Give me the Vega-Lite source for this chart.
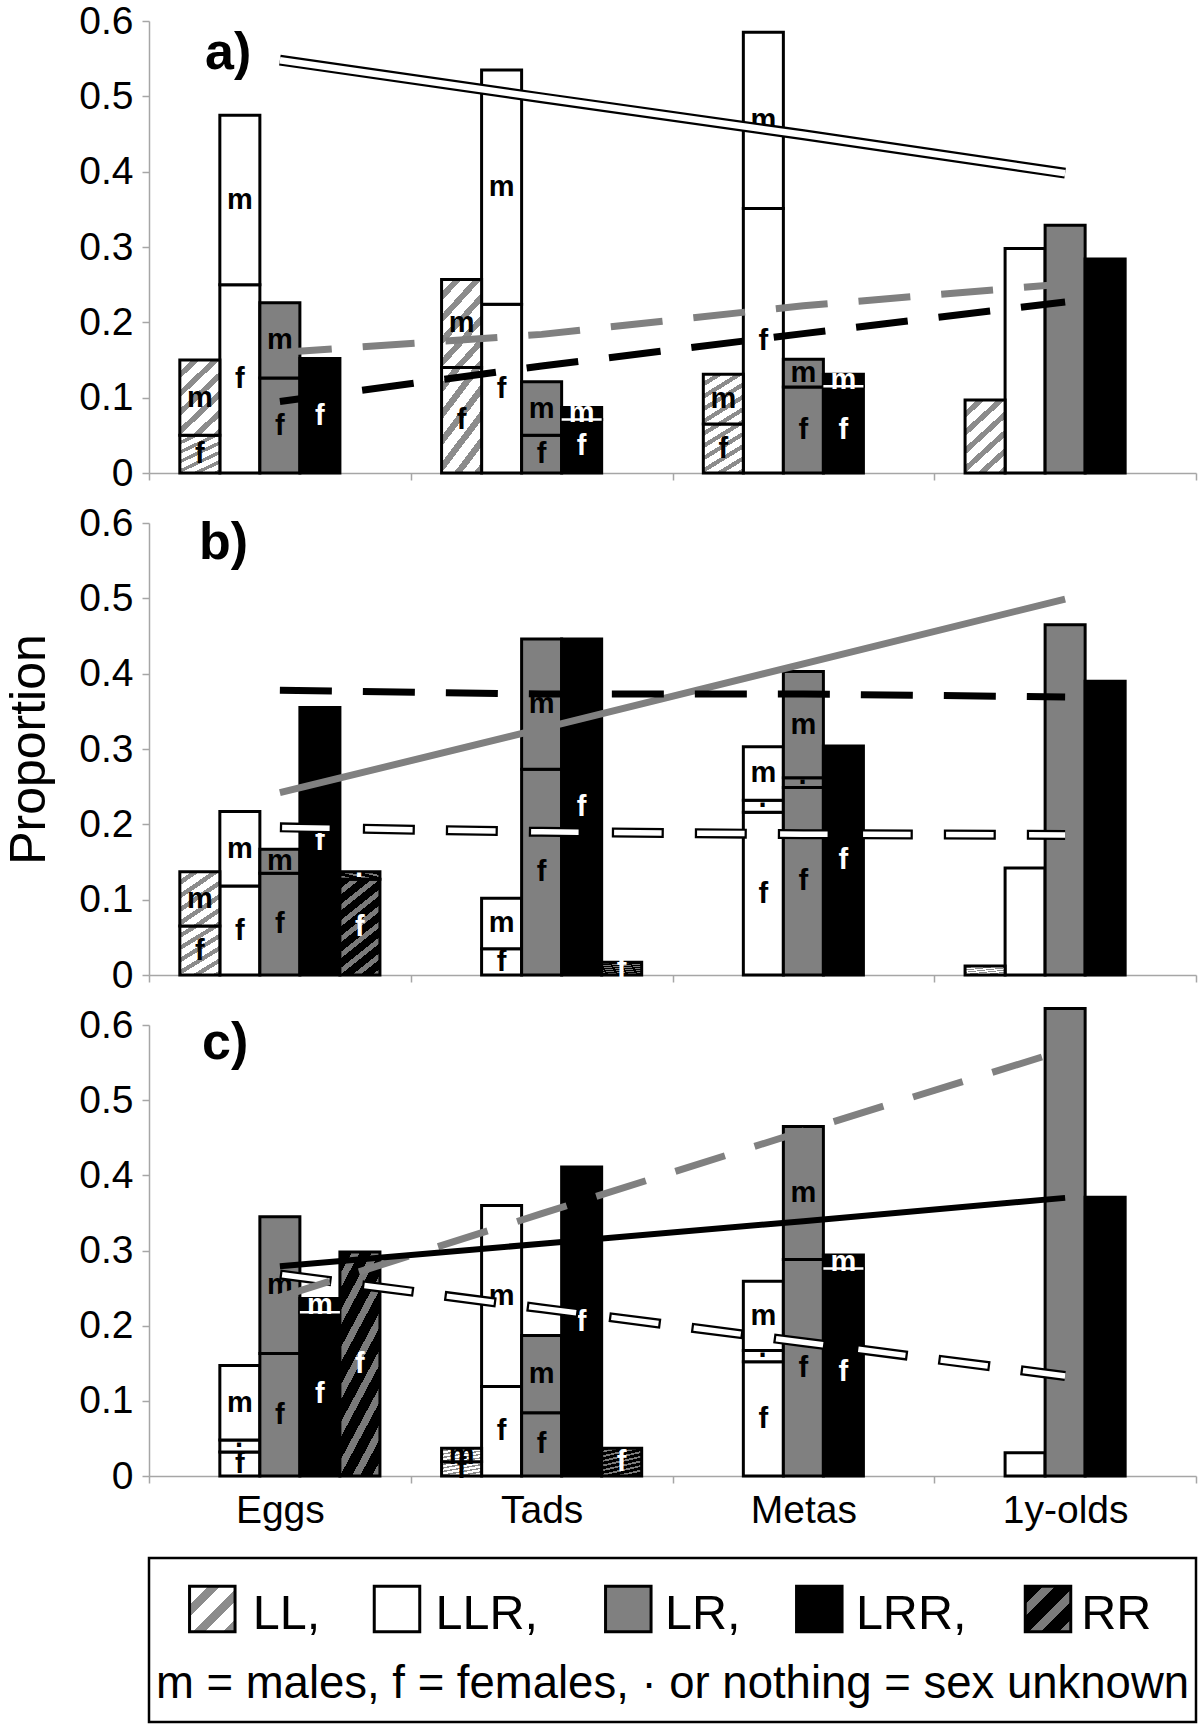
{
  "$schema": "https://vega.github.io/schema/vega-lite/v6.json",
  "padding": {"left": 4, "top": 2, "right": 4, "bottom": 1},
  "background": "white",
  "config": {
    "font": "Liberation Sans",
    "view": {"stroke": null}
  },
  "datasets": {
    "bars": [
      {"panel":"a","stage":"Eggs","geno":"LL","sex":"f","v":0.050},
      {"panel":"a","stage":"Eggs","geno":"LL","sex":"m","v":0.100},
      {"panel":"a","stage":"Eggs","geno":"LLR","sex":"f","v":0.250},
      {"panel":"a","stage":"Eggs","geno":"LLR","sex":"m","v":0.225},
      {"panel":"a","stage":"Eggs","geno":"LR","sex":"f","v":0.126},
      {"panel":"a","stage":"Eggs","geno":"LR","sex":"m","v":0.100},
      {"panel":"a","stage":"Eggs","geno":"LRR","sex":"f","v":0.152},
      {"panel":"a","stage":"Tads","geno":"LL","sex":"f","v":0.140},
      {"panel":"a","stage":"Tads","geno":"LL","sex":"m","v":0.117},
      {"panel":"a","stage":"Tads","geno":"LLR","sex":"f","v":0.224},
      {"panel":"a","stage":"Tads","geno":"LLR","sex":"m","v":0.311},
      {"panel":"a","stage":"Tads","geno":"LR","sex":"f","v":0.050},
      {"panel":"a","stage":"Tads","geno":"LR","sex":"m","v":0.071},
      {"panel":"a","stage":"Tads","geno":"LRR","sex":"f","v":0.071},
      {"panel":"a","stage":"Tads","geno":"LRR","sex":"m","v":0.016},
      {"panel":"a","stage":"Metas","geno":"LL","sex":"f","v":0.065},
      {"panel":"a","stage":"Metas","geno":"LL","sex":"m","v":0.066},
      {"panel":"a","stage":"Metas","geno":"LLR","sex":"f","v":0.351},
      {"panel":"a","stage":"Metas","geno":"LLR","sex":"m","v":0.234},
      {"panel":"a","stage":"Metas","geno":"LR","sex":"f","v":0.114},
      {"panel":"a","stage":"Metas","geno":"LR","sex":"m","v":0.037},
      {"panel":"a","stage":"Metas","geno":"LRR","sex":"f","v":0.115},
      {"panel":"a","stage":"Metas","geno":"LRR","sex":"m","v":0.016},
      {"panel":"a","stage":"1y-olds","geno":"LL","sex":"","v":0.097},
      {"panel":"a","stage":"1y-olds","geno":"LLR","sex":"","v":0.298},
      {"panel":"a","stage":"1y-olds","geno":"LR","sex":"","v":0.329},
      {"panel":"a","stage":"1y-olds","geno":"LRR","sex":"","v":0.284},
      {"panel":"b","stage":"Eggs","geno":"LL","sex":"f","v":0.065},
      {"panel":"b","stage":"Eggs","geno":"LL","sex":"m","v":0.072},
      {"panel":"b","stage":"Eggs","geno":"LLR","sex":"f","v":0.118},
      {"panel":"b","stage":"Eggs","geno":"LLR","sex":"m","v":0.099},
      {"panel":"b","stage":"Eggs","geno":"LR","sex":"f","v":0.135},
      {"panel":"b","stage":"Eggs","geno":"LR","sex":"m","v":0.032},
      {"panel":"b","stage":"Eggs","geno":"LRR","sex":"f","v":0.355},
      {"panel":"b","stage":"Eggs","geno":"RR","sex":"f","v":0.127},
      {"panel":"b","stage":"Eggs","geno":"RR","sex":"·","v":0.010},
      {"panel":"b","stage":"Tads","geno":"LLR","sex":"f","v":0.035},
      {"panel":"b","stage":"Tads","geno":"LLR","sex":"m","v":0.067},
      {"panel":"b","stage":"Tads","geno":"LR","sex":"f","v":0.273},
      {"panel":"b","stage":"Tads","geno":"LR","sex":"m","v":0.173},
      {"panel":"b","stage":"Tads","geno":"LRR","sex":"f","v":0.446},
      {"panel":"b","stage":"Tads","geno":"RR","sex":"f","v":0.017},
      {"panel":"b","stage":"Metas","geno":"LLR","sex":"f","v":0.216},
      {"panel":"b","stage":"Metas","geno":"LLR","sex":"·","v":0.016},
      {"panel":"b","stage":"Metas","geno":"LLR","sex":"m","v":0.071},
      {"panel":"b","stage":"Metas","geno":"LR","sex":"f","v":0.249},
      {"panel":"b","stage":"Metas","geno":"LR","sex":"·","v":0.013},
      {"panel":"b","stage":"Metas","geno":"LR","sex":"m","v":0.141},
      {"panel":"b","stage":"Metas","geno":"LRR","sex":"f","v":0.304},
      {"panel":"b","stage":"1y-olds","geno":"LL","sex":"","v":0.012},
      {"panel":"b","stage":"1y-olds","geno":"LLR","sex":"","v":0.142},
      {"panel":"b","stage":"1y-olds","geno":"LR","sex":"","v":0.465},
      {"panel":"b","stage":"1y-olds","geno":"LRR","sex":"","v":0.390},
      {"panel":"c","stage":"Eggs","geno":"LLR","sex":"f","v":0.032},
      {"panel":"c","stage":"Eggs","geno":"LLR","sex":"·","v":0.016},
      {"panel":"c","stage":"Eggs","geno":"LLR","sex":"m","v":0.099},
      {"panel":"c","stage":"Eggs","geno":"LR","sex":"f","v":0.163},
      {"panel":"c","stage":"Eggs","geno":"LR","sex":"m","v":0.182},
      {"panel":"c","stage":"Eggs","geno":"LRR","sex":"f","v":0.218},
      {"panel":"c","stage":"Eggs","geno":"LRR","sex":"m","v":0.018},
      {"panel":"c","stage":"Eggs","geno":"RR","sex":"f","v":0.298},
      {"panel":"c","stage":"Tads","geno":"LL","sex":"f","v":0.019},
      {"panel":"c","stage":"Tads","geno":"LL","sex":"m","v":0.018},
      {"panel":"c","stage":"Tads","geno":"LLR","sex":"f","v":0.119},
      {"panel":"c","stage":"Tads","geno":"LLR","sex":"m","v":0.241},
      {"panel":"c","stage":"Tads","geno":"LR","sex":"f","v":0.084},
      {"panel":"c","stage":"Tads","geno":"LR","sex":"m","v":0.103},
      {"panel":"c","stage":"Tads","geno":"LRR","sex":"f","v":0.411},
      {"panel":"c","stage":"Tads","geno":"RR","sex":"f","v":0.037},
      {"panel":"c","stage":"Metas","geno":"LLR","sex":"f","v":0.152},
      {"panel":"c","stage":"Metas","geno":"LLR","sex":"·","v":0.015},
      {"panel":"c","stage":"Metas","geno":"LLR","sex":"m","v":0.092},
      {"panel":"c","stage":"Metas","geno":"LR","sex":"f","v":0.288},
      {"panel":"c","stage":"Metas","geno":"LR","sex":"m","v":0.177},
      {"panel":"c","stage":"Metas","geno":"LRR","sex":"f","v":0.276},
      {"panel":"c","stage":"Metas","geno":"LRR","sex":"m","v":0.018},
      {"panel":"c","stage":"1y-olds","geno":"LLR","sex":"","v":0.031},
      {"panel":"c","stage":"1y-olds","geno":"LR","sex":"","v":0.622},
      {"panel":"c","stage":"1y-olds","geno":"LRR","sex":"","v":0.371}
    ],
    "trends": [
      {"panel":"a","geno":"LLR","stage":"Eggs","p":0.548},
      {"panel":"a","geno":"LLR","stage":"Tads","p":0.498},
      {"panel":"a","geno":"LLR","stage":"Metas","p":0.449},
      {"panel":"a","geno":"LLR","stage":"1y-olds","p":0.398},
      {"panel":"a","geno":"LR","stage":"Eggs","p":0.160},
      {"panel":"a","geno":"LR","stage":"Tads","p":0.184},
      {"panel":"a","geno":"LR","stage":"Metas","p":0.222},
      {"panel":"a","geno":"LR","stage":"1y-olds","p":0.251},
      {"panel":"a","geno":"LRR","stage":"Eggs","p":0.095},
      {"panel":"a","geno":"LRR","stage":"Tads","p":0.142},
      {"panel":"a","geno":"LRR","stage":"Metas","p":0.185},
      {"panel":"a","geno":"LRR","stage":"1y-olds","p":0.227},
      {"panel":"b","geno":"LLR","stage":"Eggs","p":0.196},
      {"panel":"b","geno":"LLR","stage":"Tads","p":0.190},
      {"panel":"b","geno":"LLR","stage":"Metas","p":0.187},
      {"panel":"b","geno":"LLR","stage":"1y-olds","p":0.186},
      {"panel":"b","geno":"LR","stage":"Eggs","p":0.242},
      {"panel":"b","geno":"LR","stage":"Tads","p":0.327},
      {"panel":"b","geno":"LR","stage":"Metas","p":0.413},
      {"panel":"b","geno":"LR","stage":"1y-olds","p":0.499},
      {"panel":"b","geno":"LRR","stage":"Eggs","p":0.378},
      {"panel":"b","geno":"LRR","stage":"Tads","p":0.373},
      {"panel":"b","geno":"LRR","stage":"Metas","p":0.373},
      {"panel":"b","geno":"LRR","stage":"1y-olds","p":0.369},
      {"panel":"c","geno":"LLR","stage":"Eggs","p":0.268},
      {"panel":"c","geno":"LLR","stage":"Tads","p":0.223},
      {"panel":"c","geno":"LLR","stage":"Metas","p":0.178},
      {"panel":"c","geno":"LLR","stage":"1y-olds","p":0.133},
      {"panel":"c","geno":"LR","stage":"Eggs","p":0.238},
      {"panel":"c","geno":"LR","stage":"Tads","p":0.349},
      {"panel":"c","geno":"LR","stage":"Metas","p":0.459},
      {"panel":"c","geno":"LR","stage":"1y-olds","p":0.567},
      {"panel":"c","geno":"LRR","stage":"Eggs","p":0.279},
      {"panel":"c","geno":"LRR","stage":"Tads","p":0.309},
      {"panel":"c","geno":"LRR","stage":"Metas","p":0.339},
      {"panel":"c","geno":"LRR","stage":"1y-olds","p":0.370}
    ],
    "legend": [
      {"geno":"LL","lab":"LL,"},
      {"geno":"LLR","lab":"LLR,"},
      {"geno":"LR","lab":"LR,"},
      {"geno":"LRR","lab":"LRR,"},
      {"geno":"RR","lab":"RR"}
    ],
    "note": [
      {"t":"m = males, f = females, · or nothing = sex unknown"}
    ]
  },
  "spacing": 11,
  "vconcat": [
    {
      "width": 1047, "height": 452,
      "title": {"text": "a)", "anchor": "start", "frame": "group", "offset": -119, "baseline": "alphabetic", "fontSize": 52, "fontWeight": "bold", "dx": 56, "color": "black"},
      "encoding": {
        "x": {"field": "stage", "type": "nominal", "scale": {"domain": ["Eggs","Tads","Metas","1y-olds"], "paddingInner": 0, "paddingOuter": 0},
              "axis": {"title": null, "labels": false, "tickBand": "extent", "domainColor": "#a6a6a6", "tickColor": "#a6a6a6", "domainWidth": 1.5, "tickWidth": 1.5, "tickSize": 7, "grid": false}},
        "y": {"field": "p", "type": "quantitative", "scale": {"domain": [0, 0.6], "nice": false, "zero": true},
              "axis": {"title": null, "values": [0,0.1,0.2,0.3,0.4,0.5,0.6], "format": "~g", "labelFontSize": 39, "labelPadding": 9, "labelColor": "black", "domainColor": "#a6a6a6", "tickColor": "#a6a6a6", "domainWidth": 1.5, "tickWidth": 1.5, "tickSize": 7, "grid": false}}
      },
      "layer": [
        {
          "data": {"name": "bars"},
          "transform": [{"filter": "datum.panel === 'a'"}, {"stack": "v", "groupby": ["stage","geno"], "as": ["p0","p"]}, {"filter": "datum.geno === 'LLR' || datum.geno === 'LR' || datum.geno === 'LRR'"}],
          "mark": {"type": "bar", "stroke": "black", "strokeWidth": 3, "opacity": 1},
          "encoding": {
            "xOffset": {"field": "geno", "type": "nominal", "scale": {"domain": ["LL","LLR","LR","LRR","RR"], "paddingInner": 0, "paddingOuter": 0.77}},
            "y2": {"field": "p0"},
            "fill": {"field": "geno", "type": "nominal", "scale": {"domain": ["LLR","LR","LRR"], "range": ["#ffffff","#808080","#000000"]}, "legend": null}
          }
        },
        {
          "data": {"name": "bars"},
          "transform": [{"filter": "datum.panel === 'a'"}, {"stack": "v", "groupby": ["stage","geno"], "as": ["p0","p"]}, {"filter": "datum.geno === 'LL'"}],
          "mark": {"type": "bar", "stroke": "black", "strokeWidth": 3, "opacity": 1,
            "fill": {"gradient": "linear", "x1": 0, "y1": 0, "x2": 1, "y2": 2, "stops": [
              {"offset":0,"color":"#ffffff"},{"offset":0.06,"color":"#ffffff"},{"offset":0.06,"color":"#8c8c8c"},{"offset":0.1,"color":"#8c8c8c"},
              {"offset":0.1,"color":"#ffffff"},{"offset":0.16,"color":"#ffffff"},{"offset":0.16,"color":"#8c8c8c"},{"offset":0.2,"color":"#8c8c8c"},
              {"offset":0.2,"color":"#ffffff"},{"offset":0.26,"color":"#ffffff"},{"offset":0.26,"color":"#8c8c8c"},{"offset":0.3,"color":"#8c8c8c"},
              {"offset":0.3,"color":"#ffffff"},{"offset":0.36,"color":"#ffffff"},{"offset":0.36,"color":"#8c8c8c"},{"offset":0.4,"color":"#8c8c8c"},
              {"offset":0.4,"color":"#ffffff"},{"offset":0.46,"color":"#ffffff"},{"offset":0.46,"color":"#8c8c8c"},{"offset":0.5,"color":"#8c8c8c"},
              {"offset":0.5,"color":"#ffffff"},{"offset":0.56,"color":"#ffffff"},{"offset":0.56,"color":"#8c8c8c"},{"offset":0.6,"color":"#8c8c8c"},
              {"offset":0.6,"color":"#ffffff"},{"offset":1,"color":"#ffffff"}]}},
          "encoding": {
            "xOffset": {"field": "geno", "type": "nominal", "scale": {"domain": ["LL","LLR","LR","LRR","RR"], "paddingInner": 0, "paddingOuter": 0.77}},
            "y2": {"field": "p0"}
          }
        },
        {
          "data": {"name": "bars"},
          "transform": [{"filter": "datum.panel === 'a'"}, {"stack": "v", "groupby": ["stage","geno"], "as": ["p","p1"]}, {"filter": "datum.geno === 'LRR' && datum.sex !== 'f' && datum.sex !== ''"}],
          "mark": {"type": "bar", "fill": "transparent", "stroke": "white", "strokeWidth": 2.5, "opacity": 1},
          "encoding": {
            "xOffset": {"field": "geno", "type": "nominal", "scale": {"domain": ["LL","LLR","LR","LRR","RR"], "paddingInner": 0, "paddingOuter": 0.77}},
            "y2": {"field": "p"}
          }
        },
        {
          "data": {"name": "bars"},
          "transform": [{"filter": "datum.panel === 'a'"}, {"stack": "v", "groupby": ["stage","geno"], "as": ["p0","p1"]}, {"filter": "datum.sex !== ''"}, {"fold": ["p0","p1"], "as": ["edge","ev"]}, {"aggregate": [{"op": "mean", "field": "ev", "as": "p"}], "groupby": ["stage","geno","sex"]}],
          "mark": {"type": "text", "fontWeight": "bold", "fontSize": 29, "baseline": "middle", "align": "center"},
          "encoding": {
            "xOffset": {"field": "geno", "type": "nominal", "scale": {"domain": ["LL","LLR","LR","LRR","RR"], "paddingInner": 0, "paddingOuter": 0.77}},
            "text": {"field": "sex"},
            "color": {"condition": {"test": "datum.geno === 'LRR' || datum.geno === 'RR'", "value": "white"}, "value": "black"}
          }
        },
        {
          "data": {"name": "trends"},
          "transform": [{"filter": "datum.panel === 'a' && datum.geno === 'LLR'"}],
          "mark": {"type": "line", "color": "black", "strokeWidth": 11, "opacity": 1},
          "encoding": {"order": {"value": null}}
        },
        {
          "data": {"name": "trends"},
          "transform": [{"filter": "datum.panel === 'a' && datum.geno === 'LLR'"}],
          "mark": {"type": "line", "color": "white", "strokeWidth": 6.5, "opacity": 1},
          "encoding": {"order": {"value": null}}
        },
        {
          "data": {"name": "trends"},
          "transform": [{"filter": "datum.panel === 'a' && datum.geno === 'LR'"}],
          "mark": {"type": "line", "color": "#808080", "strokeWidth": 7, "strokeDash": [52, 31], "opacity": 1},
          "encoding": {"order": {"value": null}}
        },
        {
          "data": {"name": "trends"},
          "transform": [{"filter": "datum.panel === 'a' && datum.geno === 'LRR'"}],
          "mark": {"type": "line", "color": "black", "strokeWidth": 7, "strokeDash": [52, 31], "opacity": 1},
          "encoding": {"order": {"value": null}}
        }
      ]
    },
    {
      "width": 1047, "height": 452,
      "title": {"text": "b)", "anchor": "start", "frame": "group", "offset": -107, "baseline": "alphabetic", "fontSize": 52, "fontWeight": "bold", "dx": 50, "color": "black"},
      "encoding": {
        "x": {"field": "stage", "type": "nominal", "scale": {"domain": ["Eggs","Tads","Metas","1y-olds"], "paddingInner": 0, "paddingOuter": 0},
              "axis": {"title": null, "labels": false, "tickBand": "extent", "domainColor": "#a6a6a6", "tickColor": "#a6a6a6", "domainWidth": 1.5, "tickWidth": 1.5, "tickSize": 7, "grid": false}},
        "y": {"field": "p", "type": "quantitative", "scale": {"domain": [0, 0.6], "nice": false, "zero": true},
              "axis": {"title": "Proportion", "titleFontSize": 50, "titleFontWeight": "normal", "titleColor": "black", "titlePadding": 24, "values": [0,0.1,0.2,0.3,0.4,0.5,0.6], "format": "~g", "labelFontSize": 39, "labelPadding": 9, "labelColor": "black", "domainColor": "#a6a6a6", "tickColor": "#a6a6a6", "domainWidth": 1.5, "tickWidth": 1.5, "tickSize": 7, "grid": false}}
      },
      "layer": [
        {
          "data": {"name": "bars"},
          "transform": [{"filter": "datum.panel === 'b'"}, {"stack": "v", "groupby": ["stage","geno"], "as": ["p0","p"]}, {"filter": "datum.geno === 'LLR' || datum.geno === 'LR' || datum.geno === 'LRR'"}],
          "mark": {"type": "bar", "stroke": "black", "strokeWidth": 3, "opacity": 1},
          "encoding": {
            "xOffset": {"field": "geno", "type": "nominal", "scale": {"domain": ["LL","LLR","LR","LRR","RR"], "paddingInner": 0, "paddingOuter": 0.77}},
            "y2": {"field": "p0"},
            "fill": {"field": "geno", "type": "nominal", "scale": {"domain": ["LLR","LR","LRR"], "range": ["#ffffff","#808080","#000000"]}, "legend": null}
          }
        },
        {
          "data": {"name": "bars"},
          "transform": [{"filter": "datum.panel === 'b'"}, {"stack": "v", "groupby": ["stage","geno"], "as": ["p0","p"]}, {"filter": "datum.geno === 'LL'"}],
          "mark": {"type": "bar", "stroke": "black", "strokeWidth": 3, "opacity": 1,
            "fill": {"gradient": "linear", "x1": 0, "y1": 0, "x2": 1, "y2": 2, "stops": [
              {"offset":0,"color":"#ffffff"},{"offset":0.06,"color":"#ffffff"},{"offset":0.06,"color":"#8c8c8c"},{"offset":0.1,"color":"#8c8c8c"},
              {"offset":0.1,"color":"#ffffff"},{"offset":0.16,"color":"#ffffff"},{"offset":0.16,"color":"#8c8c8c"},{"offset":0.2,"color":"#8c8c8c"},
              {"offset":0.2,"color":"#ffffff"},{"offset":0.26,"color":"#ffffff"},{"offset":0.26,"color":"#8c8c8c"},{"offset":0.3,"color":"#8c8c8c"},
              {"offset":0.3,"color":"#ffffff"},{"offset":0.36,"color":"#ffffff"},{"offset":0.36,"color":"#8c8c8c"},{"offset":0.4,"color":"#8c8c8c"},
              {"offset":0.4,"color":"#ffffff"},{"offset":0.46,"color":"#ffffff"},{"offset":0.46,"color":"#8c8c8c"},{"offset":0.5,"color":"#8c8c8c"},
              {"offset":0.5,"color":"#ffffff"},{"offset":0.56,"color":"#ffffff"},{"offset":0.56,"color":"#8c8c8c"},{"offset":0.6,"color":"#8c8c8c"},
              {"offset":0.6,"color":"#ffffff"},{"offset":1,"color":"#ffffff"}]}},
          "encoding": {
            "xOffset": {"field": "geno", "type": "nominal", "scale": {"domain": ["LL","LLR","LR","LRR","RR"], "paddingInner": 0, "paddingOuter": 0.77}},
            "y2": {"field": "p0"}
          }
        },
        {
          "data": {"name": "bars"},
          "transform": [{"filter": "datum.panel === 'b'"}, {"stack": "v", "groupby": ["stage","geno"], "as": ["p0","p"]}, {"filter": "datum.geno === 'RR'"}],
          "mark": {"type": "bar", "stroke": "black", "strokeWidth": 3, "opacity": 1,
            "fill": {"gradient": "linear", "x1": 0, "y1": 0, "x2": 1, "y2": 3, "stops": [
              {"offset":0,"color":"#000000"},{"offset":0.03,"color":"#000000"},{"offset":0.03,"color":"#7a7a7a"},{"offset":0.05,"color":"#7a7a7a"},
              {"offset":0.05,"color":"#000000"},{"offset":0.08,"color":"#000000"},{"offset":0.08,"color":"#7a7a7a"},{"offset":0.1,"color":"#7a7a7a"},
              {"offset":0.1,"color":"#000000"},{"offset":0.13,"color":"#000000"},{"offset":0.13,"color":"#7a7a7a"},{"offset":0.15,"color":"#7a7a7a"},
              {"offset":0.15,"color":"#000000"},{"offset":0.18,"color":"#000000"},{"offset":0.18,"color":"#7a7a7a"},{"offset":0.2,"color":"#7a7a7a"},
              {"offset":0.2,"color":"#000000"},{"offset":0.23,"color":"#000000"},{"offset":0.23,"color":"#7a7a7a"},{"offset":0.25,"color":"#7a7a7a"},
              {"offset":0.25,"color":"#000000"},{"offset":0.28,"color":"#000000"},{"offset":0.28,"color":"#7a7a7a"},{"offset":0.3,"color":"#7a7a7a"},
              {"offset":0.3,"color":"#000000"},{"offset":0.33,"color":"#000000"},{"offset":0.33,"color":"#7a7a7a"},{"offset":0.35,"color":"#7a7a7a"},
              {"offset":0.35,"color":"#000000"},{"offset":0.38,"color":"#000000"},{"offset":0.38,"color":"#7a7a7a"},{"offset":0.4,"color":"#7a7a7a"},
              {"offset":0.4,"color":"#000000"},{"offset":1,"color":"#000000"}]}},
          "encoding": {
            "xOffset": {"field": "geno", "type": "nominal", "scale": {"domain": ["LL","LLR","LR","LRR","RR"], "paddingInner": 0, "paddingOuter": 0.77}},
            "y2": {"field": "p0"}
          }
        },
        {
          "data": {"name": "bars"},
          "transform": [{"filter": "datum.panel === 'b'"}, {"stack": "v", "groupby": ["stage","geno"], "as": ["p0","p1"]}, {"filter": "datum.sex !== ''"}, {"fold": ["p0","p1"], "as": ["edge","ev"]}, {"aggregate": [{"op": "mean", "field": "ev", "as": "p"}], "groupby": ["stage","geno","sex"]}],
          "mark": {"type": "text", "fontWeight": "bold", "fontSize": 29, "baseline": "middle", "align": "center"},
          "encoding": {
            "xOffset": {"field": "geno", "type": "nominal", "scale": {"domain": ["LL","LLR","LR","LRR","RR"], "paddingInner": 0, "paddingOuter": 0.77}},
            "text": {"field": "sex"},
            "color": {"condition": {"test": "datum.geno === 'LRR' || datum.geno === 'RR'", "value": "white"}, "value": "black"}
          }
        },
        {
          "data": {"name": "trends"},
          "transform": [{"filter": "datum.panel === 'b' && datum.geno === 'LLR'"}],
          "mark": {"type": "line", "color": "black", "strokeWidth": 10, "strokeDash": [52, 31], "opacity": 1},
          "encoding": {"order": {"value": null}}
        },
        {
          "data": {"name": "trends"},
          "transform": [{"filter": "datum.panel === 'b' && datum.geno === 'LLR'"}],
          "mark": {"type": "line", "color": "white", "strokeWidth": 5.5, "strokeDash": [47.5, 35.5], "strokeDashOffset": -2.25, "opacity": 1},
          "encoding": {"order": {"value": null}}
        },
        {
          "data": {"name": "trends"},
          "transform": [{"filter": "datum.panel === 'b' && datum.geno === 'LR'"}],
          "mark": {"type": "line", "color": "#808080", "strokeWidth": 7, "opacity": 1},
          "encoding": {"order": {"value": null}}
        },
        {
          "data": {"name": "trends"},
          "transform": [{"filter": "datum.panel === 'b' && datum.geno === 'LRR'"}],
          "mark": {"type": "line", "color": "black", "strokeWidth": 7, "strokeDash": [52, 31], "opacity": 1},
          "encoding": {"order": {"value": null}}
        }
      ]
    },
    {
      "width": 1047, "height": 451,
      "title": {"text": "c)", "anchor": "start", "frame": "group", "offset": -104.5, "baseline": "alphabetic", "fontSize": 52, "fontWeight": "bold", "dx": 53, "color": "black"},
      "encoding": {
        "x": {"field": "stage", "type": "nominal", "scale": {"domain": ["Eggs","Tads","Metas","1y-olds"], "paddingInner": 0, "paddingOuter": 0},
              "axis": {"title": null, "labels": true, "labelAngle": 0, "labelFontSize": 39, "labelPadding": 8, "labelColor": "black", "tickBand": "extent", "domainColor": "#a6a6a6", "tickColor": "#a6a6a6", "domainWidth": 1.5, "tickWidth": 1.5, "tickSize": 7, "grid": false}},
        "y": {"field": "p", "type": "quantitative", "scale": {"domain": [0, 0.6], "nice": false, "zero": true},
              "axis": {"title": null, "values": [0,0.1,0.2,0.3,0.4,0.5,0.6], "format": "~g", "labelFontSize": 39, "labelPadding": 9, "labelColor": "black", "domainColor": "#a6a6a6", "tickColor": "#a6a6a6", "domainWidth": 1.5, "tickWidth": 1.5, "tickSize": 7, "grid": false}}
      },
      "layer": [
        {
          "data": {"name": "bars"},
          "transform": [{"filter": "datum.panel === 'c'"}, {"stack": "v", "groupby": ["stage","geno"], "as": ["p0","p"]}, {"filter": "datum.geno === 'LLR' || datum.geno === 'LR' || datum.geno === 'LRR'"}],
          "mark": {"type": "bar", "stroke": "black", "strokeWidth": 3, "opacity": 1},
          "encoding": {
            "xOffset": {"field": "geno", "type": "nominal", "scale": {"domain": ["LL","LLR","LR","LRR","RR"], "paddingInner": 0, "paddingOuter": 0.77}},
            "y2": {"field": "p0"},
            "fill": {"field": "geno", "type": "nominal", "scale": {"domain": ["LLR","LR","LRR"], "range": ["#ffffff","#808080","#000000"]}, "legend": null}
          }
        },
        {
          "data": {"name": "bars"},
          "transform": [{"filter": "datum.panel === 'c'"}, {"stack": "v", "groupby": ["stage","geno"], "as": ["p0","p"]}, {"filter": "datum.geno === 'LL'"}],
          "mark": {"type": "bar", "stroke": "black", "strokeWidth": 3, "opacity": 1,
            "fill": {"gradient": "linear", "x1": 0, "y1": 0, "x2": 1, "y2": 2, "stops": [
              {"offset":0,"color":"#ffffff"},{"offset":0.06,"color":"#ffffff"},{"offset":0.06,"color":"#8c8c8c"},{"offset":0.1,"color":"#8c8c8c"},
              {"offset":0.1,"color":"#ffffff"},{"offset":0.16,"color":"#ffffff"},{"offset":0.16,"color":"#8c8c8c"},{"offset":0.2,"color":"#8c8c8c"},
              {"offset":0.2,"color":"#ffffff"},{"offset":0.26,"color":"#ffffff"},{"offset":0.26,"color":"#8c8c8c"},{"offset":0.3,"color":"#8c8c8c"},
              {"offset":0.3,"color":"#ffffff"},{"offset":0.36,"color":"#ffffff"},{"offset":0.36,"color":"#8c8c8c"},{"offset":0.4,"color":"#8c8c8c"},
              {"offset":0.4,"color":"#ffffff"},{"offset":0.46,"color":"#ffffff"},{"offset":0.46,"color":"#8c8c8c"},{"offset":0.5,"color":"#8c8c8c"},
              {"offset":0.5,"color":"#ffffff"},{"offset":0.56,"color":"#ffffff"},{"offset":0.56,"color":"#8c8c8c"},{"offset":0.6,"color":"#8c8c8c"},
              {"offset":0.6,"color":"#ffffff"},{"offset":1,"color":"#ffffff"}]}},
          "encoding": {
            "xOffset": {"field": "geno", "type": "nominal", "scale": {"domain": ["LL","LLR","LR","LRR","RR"], "paddingInner": 0, "paddingOuter": 0.77}},
            "y2": {"field": "p0"}
          }
        },
        {
          "data": {"name": "bars"},
          "transform": [{"filter": "datum.panel === 'c'"}, {"stack": "v", "groupby": ["stage","geno"], "as": ["p0","p"]}, {"filter": "datum.geno === 'RR'"}],
          "mark": {"type": "bar", "stroke": "black", "strokeWidth": 3, "opacity": 1,
            "fill": {"gradient": "linear", "x1": 0, "y1": 0, "x2": 1, "y2": 3, "stops": [
              {"offset":0,"color":"#000000"},{"offset":0.03,"color":"#000000"},{"offset":0.03,"color":"#7a7a7a"},{"offset":0.05,"color":"#7a7a7a"},
              {"offset":0.05,"color":"#000000"},{"offset":0.08,"color":"#000000"},{"offset":0.08,"color":"#7a7a7a"},{"offset":0.1,"color":"#7a7a7a"},
              {"offset":0.1,"color":"#000000"},{"offset":0.13,"color":"#000000"},{"offset":0.13,"color":"#7a7a7a"},{"offset":0.15,"color":"#7a7a7a"},
              {"offset":0.15,"color":"#000000"},{"offset":0.18,"color":"#000000"},{"offset":0.18,"color":"#7a7a7a"},{"offset":0.2,"color":"#7a7a7a"},
              {"offset":0.2,"color":"#000000"},{"offset":0.23,"color":"#000000"},{"offset":0.23,"color":"#7a7a7a"},{"offset":0.25,"color":"#7a7a7a"},
              {"offset":0.25,"color":"#000000"},{"offset":0.28,"color":"#000000"},{"offset":0.28,"color":"#7a7a7a"},{"offset":0.3,"color":"#7a7a7a"},
              {"offset":0.3,"color":"#000000"},{"offset":0.33,"color":"#000000"},{"offset":0.33,"color":"#7a7a7a"},{"offset":0.35,"color":"#7a7a7a"},
              {"offset":0.35,"color":"#000000"},{"offset":0.38,"color":"#000000"},{"offset":0.38,"color":"#7a7a7a"},{"offset":0.4,"color":"#7a7a7a"},
              {"offset":0.4,"color":"#000000"},{"offset":1,"color":"#000000"}]}},
          "encoding": {
            "xOffset": {"field": "geno", "type": "nominal", "scale": {"domain": ["LL","LLR","LR","LRR","RR"], "paddingInner": 0, "paddingOuter": 0.77}},
            "y2": {"field": "p0"}
          }
        },
        {
          "data": {"name": "bars"},
          "transform": [{"filter": "datum.panel === 'c'"}, {"stack": "v", "groupby": ["stage","geno"], "as": ["p","p1"]}, {"filter": "datum.geno === 'LRR' && datum.sex !== 'f' && datum.sex !== ''"}],
          "mark": {"type": "bar", "fill": "transparent", "stroke": "white", "strokeWidth": 2.5, "opacity": 1},
          "encoding": {
            "xOffset": {"field": "geno", "type": "nominal", "scale": {"domain": ["LL","LLR","LR","LRR","RR"], "paddingInner": 0, "paddingOuter": 0.77}},
            "y2": {"field": "p"}
          }
        },
        {
          "data": {"name": "bars"},
          "transform": [{"filter": "datum.panel === 'c'"}, {"stack": "v", "groupby": ["stage","geno"], "as": ["p0","p1"]}, {"filter": "datum.sex !== ''"}, {"fold": ["p0","p1"], "as": ["edge","ev"]}, {"aggregate": [{"op": "mean", "field": "ev", "as": "p"}], "groupby": ["stage","geno","sex"]}],
          "mark": {"type": "text", "fontWeight": "bold", "fontSize": 29, "baseline": "middle", "align": "center"},
          "encoding": {
            "xOffset": {"field": "geno", "type": "nominal", "scale": {"domain": ["LL","LLR","LR","LRR","RR"], "paddingInner": 0, "paddingOuter": 0.77}},
            "text": {"field": "sex"},
            "color": {"condition": {"test": "datum.geno === 'LRR' || datum.geno === 'RR'", "value": "white"}, "value": "black"}
          }
        },
        {
          "data": {"name": "trends"},
          "transform": [{"filter": "datum.panel === 'c' && datum.geno === 'LLR'"}],
          "mark": {"type": "line", "color": "black", "strokeWidth": 10, "strokeDash": [52, 31], "opacity": 1},
          "encoding": {"order": {"value": null}}
        },
        {
          "data": {"name": "trends"},
          "transform": [{"filter": "datum.panel === 'c' && datum.geno === 'LLR'"}],
          "mark": {"type": "line", "color": "white", "strokeWidth": 5.5, "strokeDash": [47.5, 35.5], "strokeDashOffset": -2.25, "opacity": 1},
          "encoding": {"order": {"value": null}}
        },
        {
          "data": {"name": "trends"},
          "transform": [{"filter": "datum.panel === 'c' && datum.geno === 'LR'"}],
          "mark": {"type": "line", "color": "#808080", "strokeWidth": 7, "strokeDash": [52, 31], "opacity": 1},
          "encoding": {"order": {"value": null}}
        },
        {
          "data": {"name": "trends"},
          "transform": [{"filter": "datum.panel === 'c' && datum.geno === 'LRR'"}],
          "mark": {"type": "line", "color": "black", "strokeWidth": 6, "opacity": 1},
          "encoding": {"order": {"value": null}}
        }
      ]
    },
    {
      "width": 1047, "height": 164,
      "view": {"stroke": "black", "strokeWidth": 2.5},
      "title": {"text": " ", "fontSize": 11, "offset": 4},
      "encoding": {
        "x": {"field": "geno", "type": "nominal", "scale": {"domain": ["LL","LLR","LR","LRR","RR"], "paddingInner": 0, "paddingOuter": 0}, "axis": null},
        "y": {"datum": "r1", "type": "nominal", "scale": {"domain": ["r1","r2"], "paddingInner": 0, "paddingOuter": 0}, "axis": null}
      },
      "layer": [
        {
          "data": {"name": "legend"},
          "transform": [{"filter": "datum.geno === 'LL'"}],
          "mark": {"type": "point", "shape": "square", "filled": true, "size": 2070, "stroke": "black", "strokeWidth": 3, "opacity": 1, "xOffset": -41.4, "yOffset": 10,
            "fill": {"gradient": "linear", "x1": 0, "y1": 0, "x2": 1, "y2": 1, "stops": [
              {"offset":0,"color":"#ffffff"},{"offset":0.2,"color":"#ffffff"},{"offset":0.2,"color":"#8c8c8c"},{"offset":0.333,"color":"#8c8c8c"},
              {"offset":0.333,"color":"#ffffff"},{"offset":0.533,"color":"#ffffff"},{"offset":0.533,"color":"#8c8c8c"},{"offset":0.667,"color":"#8c8c8c"},
              {"offset":0.667,"color":"#ffffff"},{"offset":0.867,"color":"#ffffff"},{"offset":0.867,"color":"#8c8c8c"},{"offset":1,"color":"#8c8c8c"}]}}
        },
        {
          "data": {"name": "legend"},
          "transform": [{"filter": "datum.geno === 'LLR'"}],
          "mark": {"type": "point", "shape": "square", "filled": true, "size": 2070, "stroke": "black", "strokeWidth": 3, "opacity": 1, "xOffset": -66.1, "yOffset": 10, "fill": "#ffffff"}
        },
        {
          "data": {"name": "legend"},
          "transform": [{"filter": "datum.geno === 'LR'"}],
          "mark": {"type": "point", "shape": "square", "filled": true, "size": 2070, "stroke": "black", "strokeWidth": 3, "opacity": 1, "xOffset": -44.2, "yOffset": 10, "fill": "#808080"}
        },
        {
          "data": {"name": "legend"},
          "transform": [{"filter": "datum.geno === 'LRR'"}],
          "mark": {"type": "point", "shape": "square", "filled": true, "size": 2070, "stroke": "black", "strokeWidth": 3, "opacity": 1, "xOffset": -62.6, "yOffset": 10, "fill": "#000000"}
        },
        {
          "data": {"name": "legend"},
          "transform": [{"filter": "datum.geno === 'RR'"}],
          "mark": {"type": "point", "shape": "square", "filled": true, "size": 2070, "stroke": "black", "strokeWidth": 3, "opacity": 1, "xOffset": -43.3, "yOffset": 10,
            "fill": {"gradient": "linear", "x1": 0, "y1": 0, "x2": 1, "y2": 1, "stops": [
              {"offset":0,"color":"#000000"},{"offset":0.2,"color":"#000000"},{"offset":0.2,"color":"#7a7a7a"},{"offset":0.333,"color":"#7a7a7a"},
              {"offset":0.333,"color":"#000000"},{"offset":0.533,"color":"#000000"},{"offset":0.533,"color":"#7a7a7a"},{"offset":0.667,"color":"#7a7a7a"},
              {"offset":0.667,"color":"#000000"},{"offset":0.867,"color":"#000000"},{"offset":0.867,"color":"#7a7a7a"},{"offset":1,"color":"#7a7a7a"}]}}
        },
        {
          "data": {"name": "legend"},
          "transform": [{"filter": "datum.geno === 'LL'"}],
          "mark": {"type": "text", "fontSize": 48.5, "align": "left", "baseline": "alphabetic", "dx": -1, "dy": 30, "color": "black"},
          "encoding": {"text": {"field": "lab"}}
        },
        {
          "data": {"name": "legend"},
          "transform": [{"filter": "datum.geno === 'LLR'"}],
          "mark": {"type": "text", "fontSize": 48.5, "align": "left", "baseline": "alphabetic", "dx": -27.5, "dy": 30, "color": "black"},
          "encoding": {"text": {"field": "lab"}}
        },
        {
          "data": {"name": "legend"},
          "transform": [{"filter": "datum.geno === 'LR'"}],
          "mark": {"type": "text", "fontSize": 48.5, "align": "left", "baseline": "alphabetic", "dx": -7.5, "dy": 30, "color": "black"},
          "encoding": {"text": {"field": "lab"}}
        },
        {
          "data": {"name": "legend"},
          "transform": [{"filter": "datum.geno === 'LRR'"}],
          "mark": {"type": "text", "fontSize": 48.5, "align": "left", "baseline": "alphabetic", "dx": -26, "dy": 30, "color": "black"},
          "encoding": {"text": {"field": "lab"}}
        },
        {
          "data": {"name": "legend"},
          "transform": [{"filter": "datum.geno === 'RR'"}],
          "mark": {"type": "text", "fontSize": 48.5, "align": "left", "baseline": "alphabetic", "dx": -10, "dy": 30, "color": "black"},
          "encoding": {"text": {"field": "lab"}}
        },
        {
          "data": {"name": "note"},
          "mark": {"type": "text", "fontSize": 45.5, "align": "center", "baseline": "alphabetic", "dy": 17, "color": "black"},
          "encoding": {
            "x": {"datum": "LR", "type": "nominal", "scale": {"domain": ["LL","LLR","LR","LRR","RR"], "paddingInner": 0, "paddingOuter": 0}, "axis": null},
            "y": {"datum": "r2", "type": "nominal", "scale": {"domain": ["r1","r2"], "paddingInner": 0, "paddingOuter": 0}, "axis": null},
            "text": {"field": "t"}
          }
        }
      ]
    }
  ]
}
